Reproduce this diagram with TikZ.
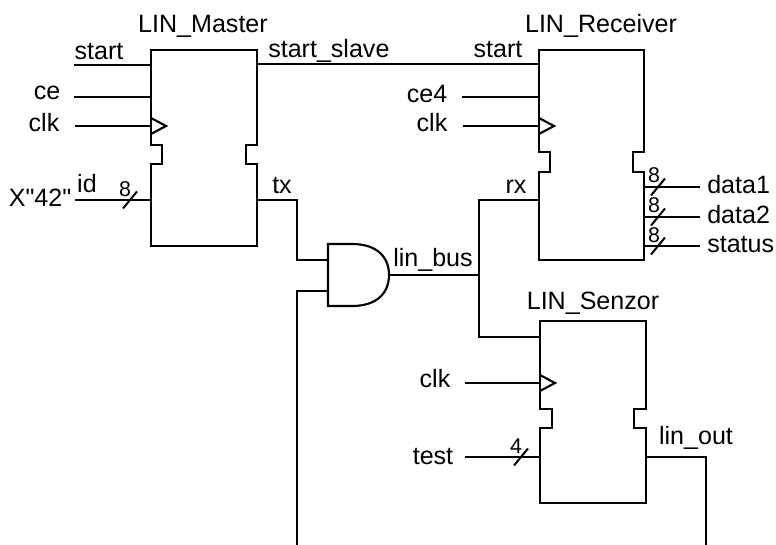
\documentclass[tikz,border=0pt]{standalone}
\usepackage{fontspec}
\setmainfont{Liberation Sans}
\newfontfamily\rawfont{Liberation Sans}
\usetikzlibrary{calc}
\tikzset{
wire/.style={line width=1.5pt}, % ordinary signal
buswire/.style={line width=2.2pt}, % heavier signal
blockbox/.style={inner sep=0pt, outer sep=0pt}, % invisible body, gives the anchors
outline/.style={line width=1.6pt, line join=miter},
sig/.style={inner sep=0pt, anchor=base, font=\fontsize{18.8}{20}\selectfont},
sigleft/.style={sig, anchor=base west},
width/.style={inner sep=0pt, anchor=base, font=\fontsize{16}{18}\selectfont},
}
% body with two notches and a clock mark: name, notch top, notch bottom, notch depth, clock y
\newcommand{\notchblock}[5]{
    \draw[outline] (#1.north west) -- (#1.north east) -- (#1.east |- 0,#2) -- ++(-#4,0) -- ++(0,#3-#2) -- ++(#4,0)
    -- (#1.south east) -- (#1.south west) -- (#1.west |- 0,#3) -- ++(#4,0) -- ++(0,#2-#3) -- ++(-#4,0) -- cycle;
    \draw[outline] (#1.west |- 0,#5) ++(0,-8) -- ++(15,8) -- ++(-15,8);
}
\newcommand{\buscut}[1]{\draw[wire] (#1) ++(-7,8.5) -- ++(14,-17);}

\begin{document}
\begin{tikzpicture}[x=0.75pt, y=-0.75pt]
    \useasboundingbox (0,0) rectangle (776,545);
    % blocks
    \node[blockbox, minimum width=79.5pt, minimum height=147pt] (master) at (204,148) {};
    \node[blockbox, minimum width=78.75pt, minimum height=157.5pt] (receiver) at (591.5,155) {};
    \node[blockbox, minimum width=79.5pt, minimum height=136.5pt] (senzor) at (593,412) {};
    \notchblock{master}{145}{164}{11}{126}
    \notchblock{receiver}{152}{172}{11}{126}
    \notchblock{senzor}{409}{428}{12}{383}
    % and gate
    \node[blockbox, minimum width=45.75pt, minimum height=46.5pt] (bus_and) at (358.5,275) {};
    \draw[outline] (bus_and.north west) -- ++(24,0) .. controls (378,244) and (389,258) .. (bus_and.east)
    .. controls (389,292) and (378,306) .. (352,306) -- (bus_and.south west) -- cycle;
    \coordinate (and_in1) at (bus_and.west |- 0,260);
    \coordinate (and_in2) at (bus_and.west |- 0,291);

    % free ends
    \coordinate (start_in) at (74,65);
    \coordinate (ce_in) at (74,97);
    \coordinate (clk_in) at (75,126);
    \coordinate (id_in) at (75,200);
    \coordinate (ce4_in) at (462,97);
    \coordinate (clk2_in) at (463,126);
    \coordinate (clk3_in) at (465,383);
    \coordinate (test_in) at (465,457);
    \coordinate (data1_out) at (700,187);
    \coordinate (data2_out) at (700,217);
    \coordinate (status_out) at (700,246);
    \coordinate (bus_back) at (297,545);
    \coordinate (lin_back) at (706,545);
    \coordinate (bus_node) at (479,275);

    \draw[wire]
    (start_in) -- (master.west |- start_in)
    (ce_in) -- (master.west |- ce_in)
    (master.east |- 0,64) -- (receiver.west |- 0,64)
    (ce4_in) -- (receiver.west |- ce4_in)
    (master.east |- 0,200) -| (297,260) -- (and_in1)
    (bus_back) |- (and_in2)
    (bus_and.east) -- (bus_node)
    (bus_node) |- (receiver.west |- 0,200)
    (bus_node) |- (senzor.west |- 0,337)
    (test_in) -- (senzor.west |- test_in)
    (senzor.east |- test_in) -| (lin_back)
    (receiver.east |- data1_out) -- (data1_out)
    (receiver.east |- status_out) -- (status_out);
    \draw[buswire]
    (clk_in) -- (master.west |- clk_in)
    (id_in) -- (master.west |- id_in)
    (clk2_in) -- (receiver.west |- clk2_in)
    (clk3_in) -- (senzor.west |- clk3_in)
    (receiver.east |- data2_out) -- (data2_out);

    % bus width marks
    \coordinate (cut_id) at (130,200);
    \coordinate (cut_d1) at (658,187);
    \coordinate (cut_d2) at (658,217);
    \coordinate (cut_st) at (658,246);
    \coordinate (cut_test) at (521,457);
    \foreach \p in {cut_id, cut_d1, cut_d2, cut_st, cut_test} {\buscut{\p}}

    % labels
    \node[sig] (name_master) at (203,33) {LIN\_Master};
    \node[sig] (name_receiver) at (601,33) {LIN\_Receiver};
    \node[sig] (name_senzor) at (593,310) {LIN\_Senzor};
    \node[sig] (lbl_start) at (99,60) {start};
    \node[sig] (lbl_ce) at (47,100) {ce};
    \node[sig] (lbl_clk) at (44,132) {clk};
    \node[sig] (lbl_x42) at (40,207) {\rawfont X"42"};
    \node[sig] (lbl_id) at (87,193) {id};
    \node[sigleft] (lbl_slave) at (268,58) {start\_slave};
    \node[sig] (lbl_tx) at (282,194) {tx};
    \node[sig] (lbl_start2) at (498,58) {start};
    \node[sig] (lbl_ce4) at (427,103) {ce4};
    \node[sig] (lbl_clk2) at (432,132) {clk};
    \node[sig] (lbl_rx) at (516,194) {rx};
    \node[sig] (lbl_bus) at (433,267) {lin\_bus};
    \node[sigleft] (lbl_data1) at (707,194) {data1};
    \node[sigleft] (lbl_data2) at (707,224) {data2};
    \node[sigleft] (lbl_status) at (707,253) {status};
    \node[sig] (lbl_clk3) at (435,388) {clk};
    \node[sig] (lbl_test) at (433,465) {test};
    \node[sig] (lbl_out) at (696,445) {lin\_out};
    \node[width] (w_id) at (125,197) {8};
    \node[width] (w_d1) at (654,183) {8};
    \node[width] (w_d2) at (654,213) {8};
    \node[width] (w_st) at (654,243) {8};
    \node[width] (w_test) at (516,454) {4};
\end{tikzpicture}
\end{document}
